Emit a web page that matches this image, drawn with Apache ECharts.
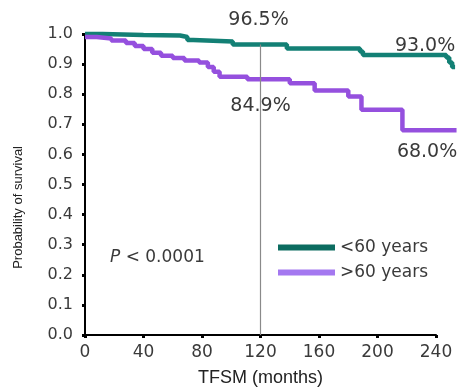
<!DOCTYPE html>
<html>
<head>
<meta charset="utf-8">
<script src="https://cdn.jsdelivr.net/npm/echarts@6/dist/echarts.min.js"></script>
<style>
  html, body { margin: 0; padding: 0; background: #fff; }
  #main { width: 466px; height: 388px; }
</style>
</head>
<body>
<div id="main"></div>
<script>
// x axis ticks (months)
const xTicks = [0, 40, 80, 120, 160, 200, 240]

// Kaplan-Meier steps: [month, survival]
const under60 = [
  [0, 1.0], [12, 0.997], [40, 0.995], [65, 0.99], [70, 0.98], [74, 0.975],
  [101, 0.965], [138, 0.952], [188, 0.942], [190, 0.93], [247, 0.922],
  [249, 0.905], [251, 0.89], [253, 0.89]
]
const over60 = [
  [0, 0.99], [8, 0.985], [18, 0.978], [28, 0.97], [34, 0.96], [40, 0.95],
  [46, 0.938], [52, 0.928], [60, 0.92], [68, 0.912], [78, 0.905], [84, 0.89],
  [88, 0.875], [92, 0.858], [111, 0.85], [140, 0.836], [157, 0.812],
  [180, 0.792], [189, 0.748], [217, 0.68], [254, 0.68]
]

// survival at 120 and 240 months
const marks60 = [[120, 0.965, '96.5%'], [240, 0.930, '93.0%']]
const marksOld = [[120, 0.849, '84.9%'], [240, 0.680, '68.0%']]

const green = '#138075'
const purple = '#9550de'
const txt = '#3a3a3a'

let myChart = echarts.init(document.getElementById('main'))

let option = {
  animation: false,
  backgroundColor: '#fff',
  // curves run a little past 240: data grid goes to 255, the visible x axis (2nd grid) stops at 240
  grid: [
    { left: 85, right: 8, top: 34, bottom: 53, outerBoundsMode: 'none', containLabel: false },
    { left: 85, right: 30, top: 34, bottom: 53, outerBoundsMode: 'none', containLabel: false }
  ],
  legend: {
    orient: 'vertical',
    left: 273,
    top: 234,
    itemWidth: 57,
    itemHeight: 6,
    itemGap: 8,
    icon: 'rect',
    textStyle: { fontFamily: 'DejaVu Sans', fontSize: 17, color: txt },
    data: [
      { name: '<60 years', itemStyle: { color: '#0c6c60' } },
      { name: '>60 years', itemStyle: { color: '#a478f0' } }
    ]
  },
  xAxis: [
    {
      gridIndex: 0,
      type: 'value',
      min: 0,
      max: 255,
      show: false
    },
    {
      gridIndex: 1,
      type: 'value',
      min: 0,
      max: 240,
      interval: 40,
      name: 'TFSM (months)',
      nameLocation: 'middle',
      nameGap: 34,
      nameTextStyle: { fontFamily: 'Liberation Sans', fontSize: 18, color: '#222' },
      splitLine: { show: false },
      axisLine: { show: true, lineStyle: { color: '#000', width: 2 } },
      axisTick: { show: true, length: 3, lineStyle: { color: '#000', width: 3 } },
      axisLabel: { margin: 9, fontFamily: 'DejaVu Sans', fontSize: 17, color: txt }
    }
  ],
  yAxis: [
    {
      gridIndex: 0,
      type: 'value',
      min: 0,
      max: 1,
      interval: 0.1,
      splitLine: { show: false },
      axisLine: { show: true, lineStyle: { color: '#000', width: 2 } },
      axisTick: { show: true, length: 3, lineStyle: { color: '#000', width: 3 } },
      axisLabel: {
        margin: 12,
        fontFamily: 'DejaVu Sans',
        fontSize: 16,
        color: txt,
        formatter: v => v.toFixed(1)
      }
    },
    {
      gridIndex: 1,
      type: 'value',
      min: 0,
      max: 1,
      show: false
    }
  ],
  graphic: [
    {
      type: 'text',
      left: 12,
      top: 146,
      rotation: Math.PI / 2,
      style: {
        text: 'Probability of survival',
        font: '13px "Liberation Sans"',
        fill: '#222'
      }
    },
    {
      type: 'text',
      left: 110,
      top: 249,
      style: {
        text: '{i|P} < 0.0001',
        font: '17px "DejaVu Sans"',
        fill: txt,
        rich: { i: { fontStyle: 'italic', fontFamily: 'DejaVu Sans', fontSize: 17, fill: txt } }
      }
    }
  ],
  series: [
    {
      name: '<60 years',
      type: 'line',
      step: 'end',
      clip: false,
      showSymbol: false,
      color: green,
      lineStyle: { width: 4.5, color: green },
      data: under60,
      markLine: {
        silent: true,
        symbol: 'none',
        label: { show: false },
        lineStyle: { color: '#8a8a8a', width: 1.2, type: 'solid' },
        data: [[{ coord: [120, 0] }, { coord: [120, 0.965] }]]
      },
      markPoint: {
        symbolSize: 0,
        label: { show: true, fontFamily: 'DejaVu Sans', fontSize: 19, color: txt },
        data: [
          { coord: marks60[0].slice(0, 2), value: marks60[0][2], label: { offset: [-2, -24], formatter: marks60[0][2] } },
          { coord: marks60[1].slice(0, 2), value: marks60[1][2], label: { offset: [-11, -9], formatter: marks60[1][2] } }
        ]
      }
    },
    {
      name: '>60 years',
      type: 'line',
      step: 'end',
      showSymbol: false,
      color: purple,
      lineStyle: { width: 4.5, color: purple },
      data: over60,
      markPoint: {
        symbolSize: 0,
        label: { show: true, fontFamily: 'DejaVu Sans', fontSize: 19, color: txt },
        data: [
          { coord: marksOld[0].slice(0, 2), value: marksOld[0][2], label: { offset: [0, 27], formatter: marksOld[0][2] } },
          { coord: marksOld[1].slice(0, 2), value: marksOld[1][2], label: { offset: [-9, 22], formatter: marksOld[1][2] } }
        ]
      }
    }
  ]
}

option && myChart.setOption(option)
</script>
</body>
</html>
